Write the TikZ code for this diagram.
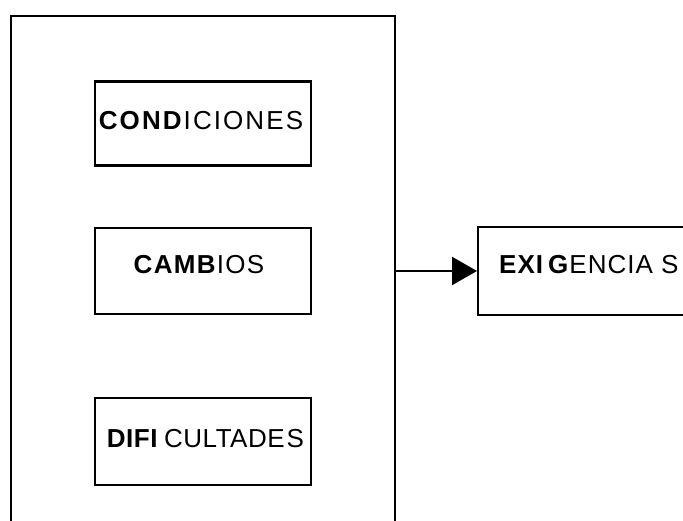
\documentclass[tikz,border=0pt]{standalone}
\usepackage{fontspec}
\setmainfont{Liberation Sans}
\usetikzlibrary{arrows.meta}
\begin{document}
\begin{tikzpicture}[x=1pt,y=-1pt,
  line width=2.3pt,
  box/.style={draw=black, rectangle, inner sep=0pt, anchor=north west},
  lbl/.style={inner sep=0pt, font=\fontsize{26}{30}\selectfont},
  conn/.style={-{Triangle[length=25pt,width=28pt]}}
]
\useasboundingbox (0,0) rectangle (683,521);
\clip (0,0) rectangle (683,521);
% outer container (open at the bottom edge of the picture)
\node[box, minimum width=384pt, minimum height=560pt] (outer) at (10,15) {};
% inner boxes
\node[box, minimum width=216pt, minimum height=84pt] (cond) at (94,80.5) {};
\node[box, minimum width=216pt, minimum height=86pt] (camb) at (94,227) {};
\node[box, minimum width=216pt, minimum height=87pt] (difi) at (94,397) {};
\node[box, minimum width=240pt, minimum height=88pt] (exig) at (477,226) {};
% labels
\node[lbl] (tcond) at (201,121) {\addfontfeature{LetterSpace=8}\textbf{COND}ICIONES};
\node[lbl] (tcamb) at (199,265) {\addfontfeature{LetterSpace=5}\textbf{CAMB}IOS};
\node[lbl] (tdifi) at (205.5,439) {\addfontfeature{LetterSpace=2}\textbf{DIFI}\hspace{6pt}CULTADE\hspace{2pt}S};
\node[lbl, anchor=west] (texig) at (498,265) {\addfontfeature{LetterSpace=4}\textbf{EXI}\hspace{4pt}\textbf{G}ENCIA\hspace{8pt}S};
% connector
\coordinate (src) at (outer.east |- 0,271);
\draw[conn] (src) -- (exig.west |- src);
\end{tikzpicture}
\end{document}
